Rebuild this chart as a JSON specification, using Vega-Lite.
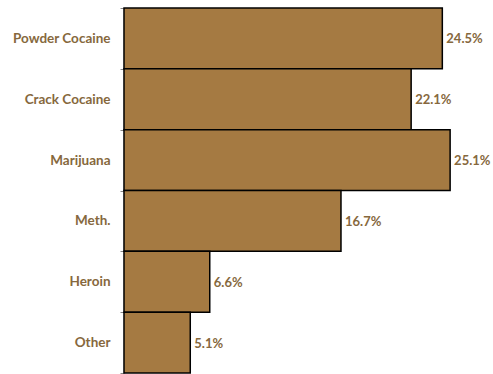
{
  "$schema": "https://vega.github.io/schema/vega-lite/v6.json",
  "autosize": "none",
  "width": 369,
  "height": 365,
  "padding": {"left": 124, "top": 8, "right": 0, "bottom": 1},
  "background": "white",
  "config": {"view": {"stroke": null}, "font": "Lato"},
  "data": {"values": [
    {"drug": "Powder Cocaine", "pct": 0.245},
    {"drug": "Crack Cocaine", "pct": 0.221},
    {"drug": "Marijuana", "pct": 0.251},
    {"drug": "Meth.", "pct": 0.167},
    {"drug": "Heroin", "pct": 0.066},
    {"drug": "Other", "pct": 0.051}
  ]},
  "encoding": {
    "y": {"field": "drug", "type": "nominal", "sort": null,
      "scale": {"paddingInner": 0, "paddingOuter": 0},
      "axis": {"title": null, "tickBand": "extent", "domainColor": "#868686", "domainWidth": 1.5,
        "tickColor": "#868686", "tickSize": 4, "labelPadding": 10,
        "labelFont": "Lato", "labelFontWeight": "bold", "labelFontSize": 13.5, "labelColor": "#86683d"}},
    "x": {"field": "pct", "type": "quantitative", "scale": {"domain": [0, 0.284]}, "axis": null}
  },
  "layer": [
    {"mark": {"type": "bar", "fill": "#a57a42", "stroke": "black", "strokeWidth": 1.5}},
    {"mark": {"type": "text", "align": "left", "dx": 4, "dy": 1, "font": "Lato", "fontWeight": "bold", "fontSize": 13, "color": "#86683d"},
     "encoding": {"text": {"field": "pct", "type": "quantitative", "format": ".1%"}}}
  ]
}
